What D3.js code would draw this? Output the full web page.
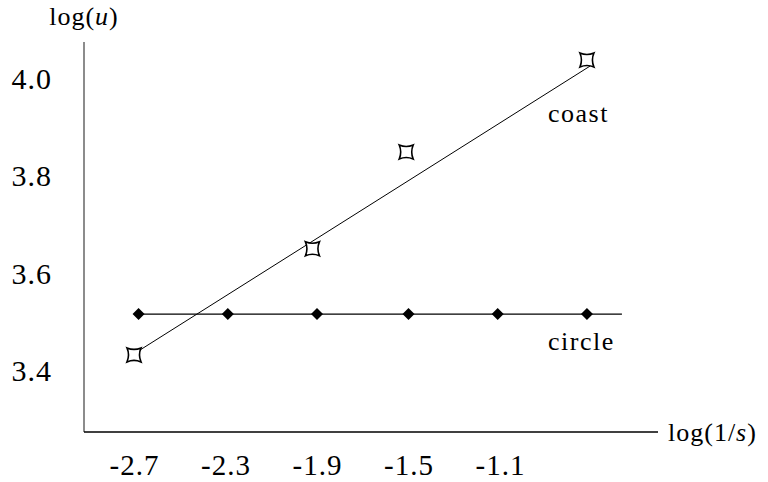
<!DOCTYPE html>
<html>
<head>
<meta charset="utf-8">
<script src="https://cdn.jsdelivr.net/npm/d3@7"></script>
<style>
  body { margin: 0; background: #fff; }
  text { font-family: "Liberation Serif", "Times New Roman", Times, serif; fill: #000; }
</style>
</head>
<body>
<div id="chart"></div>
<script>
// log(u) against log(1/s): coast vs circle

var WIDTH = 768;
var HEIGHT = 482;

var SERIF = "'Liberation Serif', 'Times New Roman', Times, serif";

// data
var xTicks = [-2.7, -2.3, -1.9, -1.5, -1.1];
var yTicks = [3.4, 3.6, 3.8, 4.0];

var coastX = [-2.70, -1.92, -1.51, -0.72];
var coastY = [3.431, 3.649, 3.848, 4.037];

var circleX = [-2.68, -2.29, -1.90, -1.50, -1.11, -0.72];
var circleY = [3.515, 3.515, 3.515, 3.515, 3.515, 3.515];
var circleLineX = [-2.68, -0.567];

var fitX = [-2.674, -0.698];
var fitY = [3.441, 4.027];

// axis frame
var AX_LEFT = 84;
var AX_RIGHT = 658;
var AX_TOP = 42;
var AX_BOTTOM = 432;

var x = d3.scaleLinear().domain([-2.7, -1.1]).range([134, 500]);
var y = d3.scaleLinear().domain([3.4, 4.0]).range([370, 78]);

var fmt = function(d) { return d.toFixed(1); };

var svg = d3.select("#chart").append("svg")
    .attr("width", WIDTH)
    .attr("height", HEIGHT);

// axis lines
svg.append("line")
    .attr("x1", AX_LEFT).attr("y1", AX_TOP)
    .attr("x2", AX_LEFT).attr("y2", AX_BOTTOM)
    .attr("stroke", "#666").attr("stroke-width", 1.5);

svg.append("line")
    .attr("x1", AX_LEFT).attr("y1", AX_BOTTOM)
    .attr("x2", AX_RIGHT).attr("y2", AX_BOTTOM)
    .attr("stroke", "#000").attr("stroke-width", 1.3);

// tick labels through d3 axes, no tick marks or domain
var xAxis = svg.append("g")
    .attr("transform", "translate(0," + 454 + ")")
    .attr("font-family", SERIF)
    .call(d3.axisBottom(x).tickValues(xTicks).tickSize(0).tickFormat(fmt));
xAxis.select(".domain").remove();
xAxis.selectAll("text")
    .attr("y", 0).attr("dy", "0.71em")
    .style("font-family", SERIF)
    .style("font-size", "29px")
    .style("letter-spacing", "1px")
    .attr("fill", "#000");

var yAxis = svg.append("g")
    .attr("transform", "translate(" + 52 + ",0)")
    .attr("font-family", SERIF)
    .call(d3.axisLeft(y).tickValues(yTicks).tickSize(0).tickFormat(fmt));
yAxis.select(".domain").remove();
yAxis.selectAll("text")
    .attr("x", 0).attr("dy", "0.35em")
    .style("font-family", SERIF)
    .style("font-size", "30px")
    .style("letter-spacing", "1px")
    .attr("fill", "#000");

// fit line for coast
svg.append("line")
    .attr("x1", x(fitX[0])).attr("y1", y(fitY[0]))
    .attr("x2", x(fitX[1])).attr("y2", y(fitY[1]))
    .attr("stroke", "#000").attr("stroke-width", 1);

// circle line
svg.append("line")
    .attr("x1", x(circleLineX[0])).attr("y1", y(circleY[0]))
    .attr("x2", x(circleLineX[1])).attr("y2", y(circleY[0]))
    .attr("stroke", "#000").attr("stroke-width", 1.2);

// circle markers, filled diamonds
var circlePts = circleX.map(function(v, i) { return [v, circleY[i]]; });
svg.selectAll("path.diamond")
    .data(circlePts)
    .enter()
    .append("path")
    .attr("class", "diamond")
    .attr("transform", function(d) { return "translate(" + x(d[0]) + "," + y(d[1]) + ")"; })
    .attr("d", "M0,-6L6,0L0,6L-6,0Z")
    .attr("fill", "#000");

// coast markers, concave squares
var coastPts = coastX.map(function(v, i) { return [v, coastY[i]]; });
svg.selectAll("path.star")
    .data(coastPts)
    .enter()
    .append("path")
    .attr("class", "star")
    .attr("transform", function(d) { return "translate(" + x(d[0]) + "," + y(d[1]) + ")"; })
    .attr("d", "M-7,-7Q0,-4 7,-7Q4,0 7,7Q0,4 -7,7Q-4,0 -7,-7Z")
    .attr("fill", "#fff")
    .attr("stroke", "#000")
    .attr("stroke-width", 1.6);

// labels
var title = svg.append("text")
    .attr("x", 84).attr("y", 25)
    .attr("text-anchor", "middle")
    .style("font-family", SERIF)
    .style("font-size", "26px")
    .style("letter-spacing", "1px");
title.append("tspan").text("log(");
title.append("tspan").style("font-style", "italic").text("u");
title.append("tspan").text(")");

var xlab = svg.append("text")
    .attr("x", 668).attr("y", 441)
    .style("font-family", SERIF)
    .style("font-size", "26px")
    .style("letter-spacing", "1px");
xlab.append("tspan").text("log(1/");
xlab.append("tspan").style("font-style", "italic").text("s");
xlab.append("tspan").text(")");

svg.append("text")
    .attr("x", 548).attr("y", 122)
    .style("font-family", SERIF)
    .style("font-size", "26px")
    .style("letter-spacing", "1.5px")
    .text("coast");

svg.append("text")
    .attr("x", 548).attr("y", 350)
    .style("font-family", SERIF)
    .style("font-size", "26px")
    .style("letter-spacing", "1.5px")
    .text("circle");
</script>
</body>
</html>
